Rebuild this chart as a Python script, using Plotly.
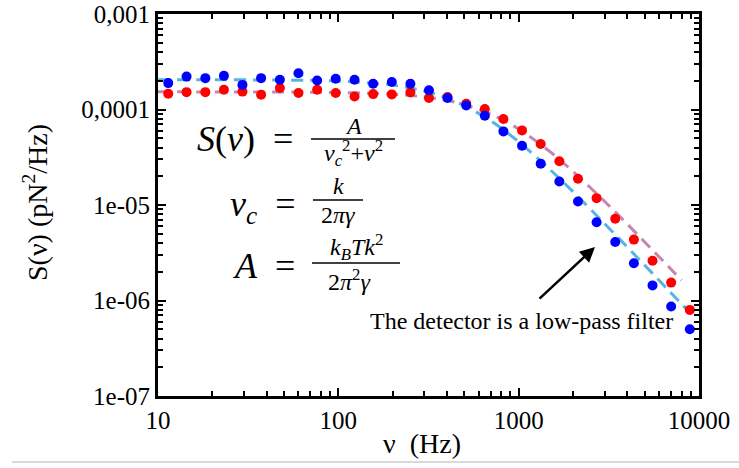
import plotly.graph_objects as go

# ---- data ----
freq_hz = [11.4, 14.4, 18.3, 23.2, 29.4, 37.3, 47.4, 60.1, 76.3, 96.7,
           123, 156, 198, 251, 318, 403, 512, 649, 823, 1044,
           1325, 1681, 2133, 2705, 3432, 4354, 5524, 7008, 8890]
psd_blue = [1.89e-4, 2.21e-4, 2.13e-4, 2.25e-4, 1.81e-4, 2.13e-4, 2.05e-4, 2.40e-4, 2.01e-4, 2.10e-4,
            2.05e-4, 1.86e-4, 1.94e-4, 1.86e-4, 1.59e-4, 1.32e-4, 1.10e-4, 8.61e-5, 5.90e-5, 4.18e-5,
            2.71e-5, 1.76e-5, 1.09e-5, 6.61e-6, 4.09e-6, 2.45e-6, 1.44e-6, 8.65e-7, 5.01e-7]
psd_red = [1.46e-4, 1.52e-4, 1.52e-4, 1.61e-4, 1.54e-4, 1.43e-4, 1.68e-4, 1.49e-4, 1.61e-4, 1.49e-4,
           1.37e-4, 1.45e-4, 1.44e-4, 1.51e-4, 1.32e-4, 1.35e-4, 1.15e-4, 1.01e-4, 7.95e-5, 6.04e-5,
           4.36e-5, 2.87e-5, 1.88e-5, 1.18e-5, 7.18e-6, 4.34e-6, 2.61e-6, 1.54e-6, 7.97e-7]

fit_blue_f = [10, 20, 50, 100, 200, 300, 400, 500, 700, 1000, 1500, 2000, 3000, 4000, 5000, 6000, 7000, 8000, 9000]
fit_blue_s = [2.05e-4, 2.047e-4, 2.032e-4, 1.981e-4, 1.80e-4, 1.562e-4, 1.318e-4, 1.098e-4, 7.60e-5, 4.59e-5,
              2.33e-5, 1.379e-5, 6.36e-6, 3.63e-6, 2.338e-6, 1.629e-6, 1.20e-6, 9.20e-7, 7.27e-7]
fit_red_f = [10, 20, 50, 100, 200, 300, 400, 500, 700, 1000, 1500, 2000, 3000, 4000, 5000, 6000, 7000, 8000]
fit_red_s = [1.53e-4, 1.529e-4, 1.524e-4, 1.508e-4, 1.446e-4, 1.353e-4, 1.242e-4, 1.123e-4, 8.94e-5, 6.24e-5,
             3.59e-5, 2.248e-5, 1.088e-5, 6.31e-6, 4.10e-6, 2.873e-6, 2.121e-6, 1.629e-6]

x_tick_vals = [10, 100, 1000, 10000]
x_tick_text = ["10", "100", "1000", "10000"]
y_tick_vals = [1e-3, 1e-4, 1e-5, 1e-6, 1e-7]
y_tick_text = ["0,001", "0,0001", "1e-05", "1e-06", "1e-07"]
minor_mults = [2, 3, 4, 5, 6, 7, 8, 9]
x_minor_vals = [m * d for d in [10, 100, 1000] for m in minor_mults]
y_minor_vals = [m * d for d in [1e-7, 1e-6, 1e-5, 1e-4] for m in minor_mults]

# ---- layout geometry (pixels) ----
W, H = 739, 468
L, R, T, B = 158, 699, 14, 396


def px(x):
    return (x - L) / (R - L)


def py(y):
    return (B - y) / (B - T)


SERIF = "Liberation Serif, Times New Roman, Times, serif"

fig = go.Figure()
fig.add_trace(go.Scatter(x=fit_red_f, y=fit_red_s, mode="lines", line_shape="spline",
                         line=dict(color="#c786b2", width=3, dash="12px,7px"), showlegend=False))
fig.add_trace(go.Scatter(x=fit_blue_f, y=fit_blue_s, mode="lines", line_shape="spline",
                         line=dict(color="#55b5e2", width=3, dash="12px,7px"), showlegend=False))
fig.add_trace(go.Scatter(x=freq_hz, y=psd_red, mode="markers",
                         marker=dict(color="#ff0000", size=10), showlegend=False))
fig.add_trace(go.Scatter(x=freq_hz, y=psd_blue, mode="markers",
                         marker=dict(color="#0000ff", size=10), showlegend=False))
# empty trace anchoring the top/right frame axes
fig.add_trace(go.Scatter(x=[], y=[], xaxis="x2", yaxis="y2", showlegend=False, hoverinfo="skip"))


def st():
    return dict(ticks="inside", ticklen=8, tickwidth=2, tickcolor="black",
                showline=True, linecolor="black", linewidth=3,
                showgrid=False, zeroline=False, automargin=False)


def mn(vals):
    return dict(tickmode="array", tickvals=vals, ticks="inside", ticklen=5,
                tickwidth=1.5, tickcolor="black", showgrid=False)


tickfont = dict(family=SERIF, size=25, color="black")

fig.update_layout(
    xaxis=dict(type="log", range=[1, 4], tickmode="array", tickvals=x_tick_vals, ticktext=x_tick_text,
               tickfont=tickfont, minor=mn(x_minor_vals), **st()),
    yaxis=dict(type="log", range=[-7, -3], tickmode="array", tickvals=y_tick_vals, ticktext=y_tick_text,
               tickfont=tickfont, minor=mn(y_minor_vals), **st()),
    xaxis2=dict(type="log", range=[1, 4], overlaying="x", side="top", anchor="y2",
                tickmode="array", tickvals=x_tick_vals, showticklabels=False,
                minor=mn(x_minor_vals), **st()),
    yaxis2=dict(type="log", range=[-7, -3], overlaying="y", side="right", anchor="x2",
                tickmode="array", tickvals=y_tick_vals, showticklabels=False,
                minor=mn(y_minor_vals), **st()),
)

ann = []
# axis titles
ann.append(dict(x=px(422), y=py(444), xref="paper", yref="paper", text="ν  (Hz)", showarrow=False,
                font=dict(family=SERIF, size=28, color="black"), xanchor="center", yanchor="middle"))
ann.append(dict(x=px(35), y=py(203), xref="paper", yref="paper", text="S(ν) (pN<sup>2</sup>/Hz)",
                showarrow=False, textangle=-90,
                font=dict(family=SERIF, size=28, color="black"), xanchor="center", yanchor="middle"))

big = dict(family=SERIF, size=36, color="black")
small = dict(family=SERIF, size=24, color="black")


def txt(x, y, s, f, xa="center"):
    ann.append(dict(x=px(x), y=py(y), xref="paper", yref="paper", text=s, showarrow=False,
                    font=f, xanchor=xa, yanchor="middle"))


# formula 1
txt(295, 139, "<i>S</i>(<i>ν</i>)&nbsp;&nbsp;=", big, "right")
txt(353, 126, "<i>A</i>", small)
txt(353, 153, "<i>ν</i><sub><i>c</i></sub><sup>2</sup>+<i>ν</i><sup>2</sup>", small)
# formula 2
txt(297, 206, "<i>ν<sub>c</sub></i>&nbsp;&nbsp;=", big, "right")
txt(338, 186, "<i>k</i>", small)
txt(338, 215, "2<i>πγ</i>", small)
# formula 3
txt(297, 266, "<i>A</i>&nbsp;&nbsp;=", big, "right")
txt(356, 247, "<i>k</i><sub><i>B</i></sub><i>Tk</i><sup>2</sup>", small)
txt(349, 280, "2<i>π</i><sup>2</sup><i>γ</i>", small)

# annotation text + arrow
txt(521, 321, "The detector is a low-pass filter", dict(family=SERIF, size=24, color="black"))
ann.append(dict(x=px(595), y=py(247), xref="paper", yref="paper",
                axref="pixel", ayref="pixel", ax=538 - 595, ay=300 - 247,
                text="", showarrow=True, arrowhead=2,
                arrowsize=1.2, arrowwidth=2.5, arrowcolor="black"))

shapes = []
for (x0, x1, y) in [(311, 395, 139), (313, 363, 200), (312, 400, 263)]:
    shapes.append(dict(type="line", xref="paper", yref="paper", x0=px(x0), x1=px(x1),
                       y0=py(y), y1=py(y), line=dict(color="black", width=1.5)))
shapes.append(dict(type="line", xref="paper", yref="paper", x0=px(12), x1=px(739),
                   y0=py(462), y1=py(462), line=dict(color="#cccccc", width=1.5)))

fig.update_layout(
    width=W, height=H, autosize=False,
    margin=dict(l=L, r=W - R, t=T, b=H - B, pad=0),
    paper_bgcolor="white", plot_bgcolor="white",
    annotations=ann, shapes=shapes, showlegend=False,
)

fig.write_html("out.html")
